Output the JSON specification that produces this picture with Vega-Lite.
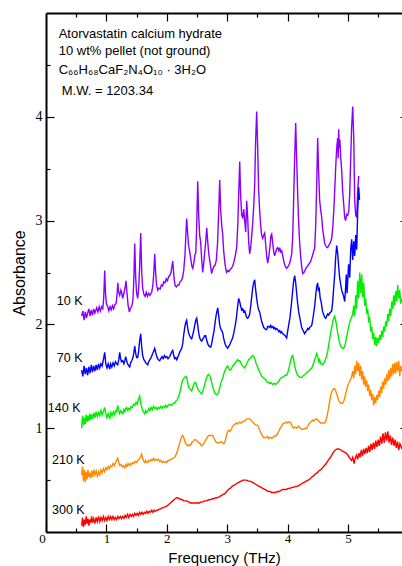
{
"$schema":"https://vega.github.io/schema/vega-lite/v6.json",
"width":356,"height":519,
"autosize":{"type":"none"},
"padding":{"left":46,"top":13,"right":0,"bottom":34},
"config":{"view":{"stroke":null},"font":"Liberation Sans"},
"datasets":{
"spectra":[
{"s":10,"f":0.59,"a":2.08},{"s":10,"f":0.61,"a":2.13},{"s":10,"f":0.63,"a":2.04},{"s":10,"f":0.65,"a":2.12},{"s":10,"f":0.67,"a":2.06},{"s":10,"f":0.69,"a":2.11},{"s":10,"f":0.71,"a":2.15},{"s":10,"f":0.73,"a":2.08},{"s":10,"f":0.75,"a":2.14},{"s":10,"f":0.77,"a":2.09},{"s":10,"f":0.79,"a":2.15},{"s":10,"f":0.81,"a":2.11},{"s":10,"f":0.84,"a":2.16},{"s":10,"f":0.86,"a":2.12},{"s":10,"f":0.88,"a":2.17},{"s":10,"f":0.90,"a":2.13},{"s":10,"f":0.92,"a":2.17},{"s":10,"f":0.94,"a":2.15},{"s":10,"f":0.955,"a":2.25},{"s":10,"f":0.972,"a":2.52},{"s":10,"f":0.985,"a":2.30},{"s":10,"f":1.00,"a":2.20},{"s":10,"f":1.022,"a":2.17},{"s":10,"f":1.04,"a":2.13},{"s":10,"f":1.06,"a":2.17},{"s":10,"f":1.08,"a":2.14},{"s":10,"f":1.10,"a":2.18},{"s":10,"f":1.12,"a":2.15},{"s":10,"f":1.14,"a":2.19},{"s":10,"f":1.16,"a":2.20},{"s":10,"f":1.175,"a":2.28},{"s":10,"f":1.19,"a":2.40},{"s":10,"f":1.20,"a":2.32},{"s":10,"f":1.22,"a":2.28},{"s":10,"f":1.24,"a":2.33},{"s":10,"f":1.255,"a":2.30},{"s":10,"f":1.27,"a":2.25},{"s":10,"f":1.29,"a":2.30},{"s":10,"f":1.31,"a":2.36},{"s":10,"f":1.325,"a":2.42},{"s":10,"f":1.34,"a":2.31},{"s":10,"f":1.36,"a":2.18},{"s":10,"f":1.38,"a":2.12},{"s":10,"f":1.40,"a":2.16},{"s":10,"f":1.42,"a":2.17},{"s":10,"f":1.44,"a":2.24},{"s":10,"f":1.455,"a":2.45},{"s":10,"f":1.469,"a":2.78},{"s":10,"f":1.485,"a":2.45},{"s":10,"f":1.50,"a":2.30},{"s":10,"f":1.518,"a":2.25},{"s":10,"f":1.535,"a":2.35},{"s":10,"f":1.55,"a":2.55},{"s":10,"f":1.568,"a":2.88},{"s":10,"f":1.585,"a":2.50},{"s":10,"f":1.60,"a":2.35},{"s":10,"f":1.62,"a":2.29},{"s":10,"f":1.64,"a":2.27},{"s":10,"f":1.66,"a":2.31},{"s":10,"f":1.68,"a":2.27},{"s":10,"f":1.70,"a":2.30},{"s":10,"f":1.72,"a":2.28},{"s":10,"f":1.75,"a":2.31},{"s":10,"f":1.77,"a":2.38},{"s":10,"f":1.785,"a":2.50},{"s":10,"f":1.80,"a":2.68},{"s":10,"f":1.815,"a":2.50},{"s":10,"f":1.83,"a":2.38},{"s":10,"f":1.85,"a":2.33},{"s":10,"f":1.87,"a":2.35},{"s":10,"f":1.89,"a":2.34},{"s":10,"f":1.91,"a":2.38},{"s":10,"f":1.93,"a":2.37},{"s":10,"f":1.95,"a":2.41},{"s":10,"f":1.97,"a":2.40},{"s":10,"f":1.99,"a":2.44},{"s":10,"f":2.01,"a":2.42},{"s":10,"f":2.03,"a":2.46},{"s":10,"f":2.05,"a":2.47},{"s":10,"f":2.07,"a":2.50},{"s":10,"f":2.085,"a":2.56},{"s":10,"f":2.098,"a":2.61},{"s":10,"f":2.11,"a":2.52},{"s":10,"f":2.125,"a":2.42},{"s":10,"f":2.14,"a":2.37},{"s":10,"f":2.16,"a":2.36},{"s":10,"f":2.18,"a":2.38},{"s":10,"f":2.20,"a":2.38},{"s":10,"f":2.22,"a":2.41},{"s":10,"f":2.24,"a":2.42},{"s":10,"f":2.26,"a":2.45},{"s":10,"f":2.28,"a":2.52},{"s":10,"f":2.30,"a":2.66},{"s":10,"f":2.315,"a":2.85},{"s":10,"f":2.329,"a":3.02},{"s":10,"f":2.345,"a":2.88},{"s":10,"f":2.36,"a":2.76},{"s":10,"f":2.38,"a":2.70},{"s":10,"f":2.40,"a":2.62},{"s":10,"f":2.415,"a":2.56},{"s":10,"f":2.43,"a":2.54},{"s":10,"f":2.45,"a":2.60},{"s":10,"f":2.465,"a":2.67},{"s":10,"f":2.48,"a":2.69},{"s":10,"f":2.495,"a":2.95},{"s":10,"f":2.512,"a":3.38},{"s":10,"f":2.528,"a":3.05},{"s":10,"f":2.545,"a":2.85},{"s":10,"f":2.56,"a":2.80},{"s":10,"f":2.575,"a":2.65},{"s":10,"f":2.594,"a":2.50},{"s":10,"f":2.61,"a":2.58},{"s":10,"f":2.627,"a":2.69},{"s":10,"f":2.645,"a":2.80},{"s":10,"f":2.661,"a":2.93},{"s":10,"f":2.68,"a":2.78},{"s":10,"f":2.695,"a":2.68},{"s":10,"f":2.71,"a":2.62},{"s":10,"f":2.727,"a":2.55},{"s":10,"f":2.743,"a":2.49},{"s":10,"f":2.76,"a":2.53},{"s":10,"f":2.78,"a":2.56},{"s":10,"f":2.80,"a":2.57},{"s":10,"f":2.82,"a":2.62},{"s":10,"f":2.84,"a":2.78},{"s":10,"f":2.86,"a":3.10},{"s":10,"f":2.876,"a":3.39},{"s":10,"f":2.892,"a":3.10},{"s":10,"f":2.91,"a":2.95},{"s":10,"f":2.925,"a":2.87},{"s":10,"f":2.94,"a":2.72},{"s":10,"f":2.96,"a":2.60},{"s":10,"f":2.98,"a":2.52},{"s":10,"f":2.992,"a":2.50},{"s":10,"f":3.01,"a":2.52},{"s":10,"f":3.03,"a":2.51},{"s":10,"f":3.05,"a":2.53},{"s":10,"f":3.07,"a":2.54},{"s":10,"f":3.091,"a":2.56},{"s":10,"f":3.11,"a":2.60},{"s":10,"f":3.13,"a":2.65},{"s":10,"f":3.157,"a":2.74},{"s":10,"f":3.175,"a":2.95},{"s":10,"f":3.19,"a":3.25},{"s":10,"f":3.207,"a":3.57},{"s":10,"f":3.222,"a":3.25},{"s":10,"f":3.24,"a":3.05},{"s":10,"f":3.257,"a":3.03},{"s":10,"f":3.273,"a":3.11},{"s":10,"f":3.29,"a":3.00},{"s":10,"f":3.306,"a":2.89},{"s":10,"f":3.323,"a":3.19},{"s":10,"f":3.339,"a":3.03},{"s":10,"f":3.355,"a":2.80},{"s":10,"f":3.372,"a":2.68},{"s":10,"f":3.39,"a":2.75},{"s":10,"f":3.405,"a":2.85},{"s":10,"f":3.422,"a":2.97},{"s":10,"f":3.44,"a":3.15},{"s":10,"f":3.455,"a":3.35},{"s":10,"f":3.47,"a":3.75},{"s":10,"f":3.488,"a":4.05},{"s":10,"f":3.505,"a":3.70},{"s":10,"f":3.52,"a":3.30},{"s":10,"f":3.538,"a":3.09},{"s":10,"f":3.555,"a":2.95},{"s":10,"f":3.57,"a":2.86},{"s":10,"f":3.588,"a":2.83},{"s":10,"f":3.605,"a":2.86},{"s":10,"f":3.621,"a":2.88},{"s":10,"f":3.64,"a":2.75},{"s":10,"f":3.655,"a":2.65},{"s":10,"f":3.671,"a":2.59},{"s":10,"f":3.69,"a":2.66},{"s":10,"f":3.71,"a":2.76},{"s":10,"f":3.722,"a":2.85},{"s":10,"f":3.737,"a":2.87},{"s":10,"f":3.755,"a":2.78},{"s":10,"f":3.77,"a":2.70},{"s":10,"f":3.786,"a":2.66},{"s":10,"f":3.80,"a":2.69},{"s":10,"f":3.82,"a":2.73},{"s":10,"f":3.836,"a":2.74},{"s":10,"f":3.855,"a":2.71},{"s":10,"f":3.87,"a":2.74},{"s":10,"f":3.885,"a":2.70},{"s":10,"f":3.902,"a":2.71},{"s":10,"f":3.92,"a":2.66},{"s":10,"f":3.94,"a":2.60},{"s":10,"f":3.96,"a":2.56},{"s":10,"f":3.985,"a":2.54},{"s":10,"f":4.00,"a":2.55},{"s":10,"f":4.02,"a":2.57},{"s":10,"f":4.04,"a":2.60},{"s":10,"f":4.068,"a":2.68},{"s":10,"f":4.085,"a":2.85},{"s":10,"f":4.10,"a":3.20},{"s":10,"f":4.117,"a":3.60},{"s":10,"f":4.134,"a":3.94},{"s":10,"f":4.15,"a":3.60},{"s":10,"f":4.167,"a":3.25},{"s":10,"f":4.184,"a":2.97},{"s":10,"f":4.20,"a":2.78},{"s":10,"f":4.217,"a":2.65},{"s":10,"f":4.233,"a":2.56},{"s":10,"f":4.25,"a":2.49},{"s":10,"f":4.27,"a":2.50},{"s":10,"f":4.29,"a":2.52},{"s":10,"f":4.31,"a":2.55},{"s":10,"f":4.33,"a":2.56},{"s":10,"f":4.35,"a":2.58},{"s":10,"f":4.366,"a":2.59},{"s":10,"f":4.39,"a":2.62},{"s":10,"f":4.41,"a":2.66},{"s":10,"f":4.43,"a":2.70},{"s":10,"f":4.449,"a":2.74},{"s":10,"f":4.465,"a":2.95},{"s":10,"f":4.48,"a":3.30},{"s":10,"f":4.498,"a":3.795},{"s":10,"f":4.515,"a":3.45},{"s":10,"f":4.53,"a":3.20},{"s":10,"f":4.548,"a":3.10},{"s":10,"f":4.565,"a":3.03},{"s":10,"f":4.58,"a":2.92},{"s":10,"f":4.60,"a":2.84},{"s":10,"f":4.614,"a":2.78},{"s":10,"f":4.63,"a":2.76},{"s":10,"f":4.65,"a":2.74},{"s":10,"f":4.664,"a":2.74},{"s":10,"f":4.68,"a":2.76},{"s":10,"f":4.70,"a":2.78},{"s":10,"f":4.715,"a":2.80},{"s":10,"f":4.73,"a":2.83},{"s":10,"f":4.75,"a":2.95},{"s":10,"f":4.765,"a":3.10},{"s":10,"f":4.78,"a":3.29},{"s":10,"f":4.795,"a":3.50},{"s":10,"f":4.813,"a":3.70},{"s":10,"f":4.829,"a":3.795},{"s":10,"f":4.838,"a":3.60},{"s":10,"f":4.846,"a":3.88},{"s":10,"f":4.855,"a":3.70},{"s":10,"f":4.865,"a":3.78},{"s":10,"f":4.88,"a":3.60},{"s":10,"f":4.896,"a":3.48},{"s":10,"f":4.91,"a":3.30},{"s":10,"f":4.93,"a":3.15},{"s":10,"f":4.945,"a":3.03},{"s":10,"f":4.96,"a":3.00},{"s":10,"f":4.978,"a":3.06},{"s":10,"f":4.995,"a":3.05},{"s":10,"f":5.012,"a":3.09},{"s":10,"f":5.028,"a":3.25},{"s":10,"f":5.045,"a":3.60},{"s":10,"f":5.06,"a":3.90},{"s":10,"f":5.078,"a":4.10},{"s":10,"f":5.095,"a":3.80},{"s":10,"f":5.111,"a":3.19},{"s":10,"f":5.128,"a":3.05},{"s":10,"f":5.144,"a":3.03},{"s":10,"f":5.161,"a":3.29},{"s":10,"f":5.177,"a":3.43},
{"s":70,"f":0.59,"a":1.56},{"s":70,"f":0.61,"a":1.50},{"s":70,"f":0.63,"a":1.60},{"s":70,"f":0.65,"a":1.52},{"s":70,"f":0.67,"a":1.58},{"s":70,"f":0.69,"a":1.51},{"s":70,"f":0.71,"a":1.59},{"s":70,"f":0.73,"a":1.53},{"s":70,"f":0.75,"a":1.61},{"s":70,"f":0.77,"a":1.54},{"s":70,"f":0.79,"a":1.60},{"s":70,"f":0.81,"a":1.55},{"s":70,"f":0.83,"a":1.61},{"s":70,"f":0.85,"a":1.56},{"s":70,"f":0.87,"a":1.62},{"s":70,"f":0.89,"a":1.58},{"s":70,"f":0.91,"a":1.62},{"s":70,"f":0.93,"a":1.60},{"s":70,"f":0.95,"a":1.66},{"s":70,"f":0.972,"a":1.73},{"s":70,"f":0.99,"a":1.62},{"s":70,"f":1.01,"a":1.58},{"s":70,"f":1.03,"a":1.62},{"s":70,"f":1.055,"a":1.57},{"s":70,"f":1.07,"a":1.62},{"s":70,"f":1.09,"a":1.59},{"s":70,"f":1.11,"a":1.63},{"s":70,"f":1.13,"a":1.60},{"s":70,"f":1.15,"a":1.64},{"s":70,"f":1.17,"a":1.62},{"s":70,"f":1.187,"a":1.61},{"s":70,"f":1.205,"a":1.66},{"s":70,"f":1.22,"a":1.73},{"s":70,"f":1.235,"a":1.67},{"s":70,"f":1.25,"a":1.64},{"s":70,"f":1.27,"a":1.65},{"s":70,"f":1.29,"a":1.62},{"s":70,"f":1.305,"a":1.65},{"s":70,"f":1.32,"a":1.69},{"s":70,"f":1.335,"a":1.65},{"s":70,"f":1.35,"a":1.62},{"s":70,"f":1.37,"a":1.60},{"s":70,"f":1.386,"a":1.59},{"s":70,"f":1.40,"a":1.63},{"s":70,"f":1.42,"a":1.65},{"s":70,"f":1.44,"a":1.68},{"s":70,"f":1.455,"a":1.73},{"s":70,"f":1.469,"a":1.79},{"s":70,"f":1.485,"a":1.72},{"s":70,"f":1.50,"a":1.68},{"s":70,"f":1.518,"a":1.68},{"s":70,"f":1.535,"a":1.75},{"s":70,"f":1.55,"a":1.84},{"s":70,"f":1.568,"a":1.91},{"s":70,"f":1.585,"a":1.78},{"s":70,"f":1.60,"a":1.70},{"s":70,"f":1.62,"a":1.66},{"s":70,"f":1.634,"a":1.65},{"s":70,"f":1.65,"a":1.63},{"s":70,"f":1.67,"a":1.62},{"s":70,"f":1.684,"a":1.61},{"s":70,"f":1.70,"a":1.64},{"s":70,"f":1.72,"a":1.66},{"s":70,"f":1.74,"a":1.68},{"s":70,"f":1.76,"a":1.71},{"s":70,"f":1.78,"a":1.74},{"s":70,"f":1.80,"a":1.77},{"s":70,"f":1.82,"a":1.72},{"s":70,"f":1.84,"a":1.68},{"s":70,"f":1.86,"a":1.66},{"s":70,"f":1.882,"a":1.65},{"s":70,"f":1.90,"a":1.67},{"s":70,"f":1.92,"a":1.69},{"s":70,"f":1.94,"a":1.67},{"s":70,"f":1.96,"a":1.70},{"s":70,"f":1.98,"a":1.68},{"s":70,"f":2.00,"a":1.69},{"s":70,"f":2.02,"a":1.67},{"s":70,"f":2.048,"a":1.69},{"s":70,"f":2.07,"a":1.72},{"s":70,"f":2.085,"a":1.74},{"s":70,"f":2.098,"a":1.75},{"s":70,"f":2.115,"a":1.70},{"s":70,"f":2.13,"a":1.67},{"s":70,"f":2.15,"a":1.68},{"s":70,"f":2.165,"a":1.66},{"s":70,"f":2.18,"a":1.68},{"s":70,"f":2.20,"a":1.71},{"s":70,"f":2.22,"a":1.74},{"s":70,"f":2.247,"a":1.77},{"s":70,"f":2.265,"a":1.82},{"s":70,"f":2.28,"a":1.90},{"s":70,"f":2.30,"a":1.98},{"s":70,"f":2.315,"a":2.02},{"s":70,"f":2.329,"a":2.04},{"s":70,"f":2.345,"a":1.97},{"s":70,"f":2.36,"a":1.92},{"s":70,"f":2.38,"a":1.89},{"s":70,"f":2.395,"a":1.87},{"s":70,"f":2.412,"a":1.86},{"s":70,"f":2.43,"a":1.90},{"s":70,"f":2.45,"a":1.95},{"s":70,"f":2.465,"a":2.00},{"s":70,"f":2.48,"a":2.04},{"s":70,"f":2.495,"a":2.06},{"s":70,"f":2.51,"a":2.00},{"s":70,"f":2.525,"a":1.93},{"s":70,"f":2.545,"a":1.87},{"s":70,"f":2.56,"a":1.85},{"s":70,"f":2.578,"a":1.84},{"s":70,"f":2.595,"a":1.86},{"s":70,"f":2.61,"a":1.87},{"s":70,"f":2.627,"a":1.89},{"s":70,"f":2.644,"a":1.89},{"s":70,"f":2.66,"a":1.85},{"s":70,"f":2.68,"a":1.81},{"s":70,"f":2.70,"a":1.79},{"s":70,"f":2.727,"a":1.78},{"s":70,"f":2.745,"a":1.82},{"s":70,"f":2.76,"a":1.87},{"s":70,"f":2.78,"a":1.93},{"s":70,"f":2.80,"a":2.02},{"s":70,"f":2.82,"a":2.10},{"s":70,"f":2.843,"a":2.16},{"s":70,"f":2.86,"a":2.08},{"s":70,"f":2.875,"a":2.00},{"s":70,"f":2.89,"a":1.96},{"s":70,"f":2.91,"a":1.94},{"s":70,"f":2.925,"a":1.92},{"s":70,"f":2.94,"a":1.87},{"s":70,"f":2.96,"a":1.82},{"s":70,"f":2.98,"a":1.79},{"s":70,"f":3.008,"a":1.77},{"s":70,"f":3.025,"a":1.79},{"s":70,"f":3.04,"a":1.80},{"s":70,"f":3.06,"a":1.83},{"s":70,"f":3.075,"a":1.85},{"s":70,"f":3.091,"a":1.87},{"s":70,"f":3.11,"a":1.92},{"s":70,"f":3.13,"a":1.98},{"s":70,"f":3.15,"a":2.05},{"s":70,"f":3.17,"a":2.16},{"s":70,"f":3.19,"a":2.25},{"s":70,"f":3.207,"a":2.22},{"s":70,"f":3.225,"a":2.17},{"s":70,"f":3.24,"a":2.14},{"s":70,"f":3.257,"a":2.15},{"s":70,"f":3.273,"a":2.12},{"s":70,"f":3.29,"a":2.13},{"s":70,"f":3.306,"a":2.10},{"s":70,"f":3.32,"a":2.07},{"s":70,"f":3.339,"a":2.06},{"s":70,"f":3.355,"a":2.07},{"s":70,"f":3.372,"a":2.10},{"s":70,"f":3.39,"a":2.18},{"s":70,"f":3.405,"a":2.26},{"s":70,"f":3.422,"a":2.35},{"s":70,"f":3.438,"a":2.40},{"s":70,"f":3.455,"a":2.43},{"s":70,"f":3.47,"a":2.34},{"s":70,"f":3.488,"a":2.25},{"s":70,"f":3.505,"a":2.18},{"s":70,"f":3.52,"a":2.14},{"s":70,"f":3.538,"a":2.12},{"s":70,"f":3.555,"a":2.07},{"s":70,"f":3.57,"a":2.03},{"s":70,"f":3.588,"a":2.00},{"s":70,"f":3.605,"a":1.97},{"s":70,"f":3.621,"a":1.96},{"s":70,"f":3.64,"a":1.95},{"s":70,"f":3.654,"a":1.95},{"s":70,"f":3.67,"a":1.98},{"s":70,"f":3.69,"a":1.98},{"s":70,"f":3.705,"a":1.97},{"s":70,"f":3.72,"a":1.99},{"s":70,"f":3.737,"a":1.97},{"s":70,"f":3.755,"a":1.98},{"s":70,"f":3.77,"a":1.96},{"s":70,"f":3.786,"a":1.97},{"s":70,"f":3.80,"a":1.95},{"s":70,"f":3.82,"a":1.96},{"s":70,"f":3.836,"a":1.95},{"s":70,"f":3.855,"a":1.93},{"s":70,"f":3.87,"a":1.94},{"s":70,"f":3.885,"a":1.92},{"s":70,"f":3.90,"a":1.93},{"s":70,"f":3.92,"a":1.91},{"s":70,"f":3.94,"a":1.90},{"s":70,"f":3.96,"a":1.89},{"s":70,"f":3.985,"a":1.87},{"s":70,"f":4.00,"a":1.93},{"s":70,"f":4.02,"a":2.00},{"s":70,"f":4.04,"a":2.07},{"s":70,"f":4.06,"a":2.18},{"s":70,"f":4.08,"a":2.30},{"s":70,"f":4.10,"a":2.42},{"s":70,"f":4.117,"a":2.47},{"s":70,"f":4.134,"a":2.40},{"s":70,"f":4.15,"a":2.30},{"s":70,"f":4.167,"a":2.20},{"s":70,"f":4.184,"a":2.12},{"s":70,"f":4.20,"a":2.07},{"s":70,"f":4.217,"a":2.02},{"s":70,"f":4.233,"a":1.97},{"s":70,"f":4.25,"a":1.95},{"s":70,"f":4.265,"a":1.93},{"s":70,"f":4.283,"a":1.91},{"s":70,"f":4.30,"a":1.93},{"s":70,"f":4.316,"a":1.94},{"s":70,"f":4.335,"a":1.96},{"s":70,"f":4.35,"a":1.95},{"s":70,"f":4.366,"a":1.97},{"s":70,"f":4.383,"a":1.98},{"s":70,"f":4.399,"a":1.99},{"s":70,"f":4.415,"a":2.04},{"s":70,"f":4.43,"a":2.10},{"s":70,"f":4.449,"a":2.18},{"s":70,"f":4.465,"a":2.28},{"s":70,"f":4.48,"a":2.36},{"s":70,"f":4.498,"a":2.40},{"s":70,"f":4.51,"a":2.32},{"s":70,"f":4.525,"a":2.34},{"s":70,"f":4.54,"a":2.25},{"s":70,"f":4.555,"a":2.22},{"s":70,"f":4.565,"a":2.18},{"s":70,"f":4.58,"a":2.12},{"s":70,"f":4.60,"a":2.09},{"s":70,"f":4.614,"a":2.07},{"s":70,"f":4.631,"a":2.06},{"s":70,"f":4.647,"a":2.08},{"s":70,"f":4.664,"a":2.10},{"s":70,"f":4.68,"a":2.09},{"s":70,"f":4.70,"a":2.11},{"s":70,"f":4.715,"a":2.12},{"s":70,"f":4.73,"a":2.13},{"s":70,"f":4.747,"a":2.22},{"s":70,"f":4.763,"a":2.35},{"s":70,"f":4.78,"a":2.48},{"s":70,"f":4.796,"a":2.65},{"s":70,"f":4.813,"a":2.76},{"s":70,"f":4.83,"a":2.68},{"s":70,"f":4.846,"a":2.55},{"s":70,"f":4.862,"a":2.45},{"s":70,"f":4.88,"a":2.38},{"s":70,"f":4.896,"a":2.33},{"s":70,"f":4.912,"a":2.30},{"s":70,"f":4.928,"a":2.27},{"s":70,"f":4.945,"a":2.22},{"s":70,"f":4.96,"a":2.35},{"s":70,"f":4.972,"a":2.48},{"s":70,"f":4.985,"a":2.30},{"s":70,"f":4.995,"a":2.42},{"s":70,"f":5.01,"a":2.58},{"s":70,"f":5.028,"a":2.45},{"s":70,"f":5.045,"a":2.72},{"s":70,"f":5.061,"a":2.82},{"s":70,"f":5.078,"a":2.62},{"s":70,"f":5.095,"a":2.80},{"s":70,"f":5.111,"a":2.66},{"s":70,"f":5.128,"a":2.86},{"s":70,"f":5.144,"a":2.72},{"s":70,"f":5.161,"a":3.10},{"s":70,"f":5.177,"a":3.32},{"s":70,"f":5.19,"a":3.20},
{"s":140,"f":0.59,"a":1.00},{"s":140,"f":0.605,"a":1.12},{"s":140,"f":0.62,"a":1.03},{"s":140,"f":0.635,"a":1.10},{"s":140,"f":0.65,"a":1.04},{"s":140,"f":0.665,"a":1.13},{"s":140,"f":0.68,"a":1.06},{"s":140,"f":0.695,"a":1.12},{"s":140,"f":0.71,"a":1.07},{"s":140,"f":0.725,"a":1.14},{"s":140,"f":0.74,"a":1.08},{"s":140,"f":0.755,"a":1.13},{"s":140,"f":0.77,"a":1.09},{"s":140,"f":0.79,"a":1.15},{"s":140,"f":0.81,"a":1.10},{"s":140,"f":0.83,"a":1.16},{"s":140,"f":0.85,"a":1.11},{"s":140,"f":0.87,"a":1.15},{"s":140,"f":0.89,"a":1.12},{"s":140,"f":0.91,"a":1.17},{"s":140,"f":0.93,"a":1.13},{"s":140,"f":0.95,"a":1.16},{"s":140,"f":0.972,"a":1.20},{"s":140,"f":0.99,"a":1.14},{"s":140,"f":1.01,"a":1.10},{"s":140,"f":1.03,"a":1.14},{"s":140,"f":1.055,"a":1.09},{"s":140,"f":1.075,"a":1.15},{"s":140,"f":1.095,"a":1.12},{"s":140,"f":1.115,"a":1.16},{"s":140,"f":1.135,"a":1.13},{"s":140,"f":1.155,"a":1.17},{"s":140,"f":1.17,"a":1.16},{"s":140,"f":1.187,"a":1.22},{"s":140,"f":1.205,"a":1.17},{"s":140,"f":1.22,"a":1.14},{"s":140,"f":1.24,"a":1.17},{"s":140,"f":1.255,"a":1.15},{"s":140,"f":1.27,"a":1.14},{"s":140,"f":1.29,"a":1.18},{"s":140,"f":1.305,"a":1.16},{"s":140,"f":1.32,"a":1.19},{"s":140,"f":1.336,"a":1.20},{"s":140,"f":1.355,"a":1.17},{"s":140,"f":1.37,"a":1.19},{"s":140,"f":1.39,"a":1.18},{"s":140,"f":1.41,"a":1.21},{"s":140,"f":1.43,"a":1.20},{"s":140,"f":1.45,"a":1.23},{"s":140,"f":1.47,"a":1.22},{"s":140,"f":1.49,"a":1.25},{"s":140,"f":1.51,"a":1.23},{"s":140,"f":1.53,"a":1.28},{"s":140,"f":1.551,"a":1.31},{"s":140,"f":1.57,"a":1.24},{"s":140,"f":1.59,"a":1.19},{"s":140,"f":1.61,"a":1.16},{"s":140,"f":1.634,"a":1.14},{"s":140,"f":1.65,"a":1.17},{"s":140,"f":1.667,"a":1.15},{"s":140,"f":1.684,"a":1.16},{"s":140,"f":1.70,"a":1.19},{"s":140,"f":1.72,"a":1.17},{"s":140,"f":1.74,"a":1.20},{"s":140,"f":1.76,"a":1.18},{"s":140,"f":1.78,"a":1.21},{"s":140,"f":1.80,"a":1.19},{"s":140,"f":1.82,"a":1.20},{"s":140,"f":1.84,"a":1.18},{"s":140,"f":1.86,"a":1.20},{"s":140,"f":1.88,"a":1.19},{"s":140,"f":1.90,"a":1.21},{"s":140,"f":1.92,"a":1.19},{"s":140,"f":1.94,"a":1.21},{"s":140,"f":1.96,"a":1.20},{"s":140,"f":1.98,"a":1.22},{"s":140,"f":2.00,"a":1.20},{"s":140,"f":2.02,"a":1.22},{"s":140,"f":2.05,"a":1.23},{"s":140,"f":2.08,"a":1.22},{"s":140,"f":2.11,"a":1.24},{"s":140,"f":2.131,"a":1.24},{"s":140,"f":2.15,"a":1.26},{"s":140,"f":2.17,"a":1.27},{"s":140,"f":2.19,"a":1.30},{"s":140,"f":2.21,"a":1.33},{"s":140,"f":2.23,"a":1.38},{"s":140,"f":2.25,"a":1.44},{"s":140,"f":2.27,"a":1.47},{"s":140,"f":2.296,"a":1.49},{"s":140,"f":2.313,"a":1.50},{"s":140,"f":2.329,"a":1.49},{"s":140,"f":2.345,"a":1.44},{"s":140,"f":2.36,"a":1.40},{"s":140,"f":2.379,"a":1.38},{"s":140,"f":2.395,"a":1.37},{"s":140,"f":2.412,"a":1.36},{"s":140,"f":2.429,"a":1.39},{"s":140,"f":2.445,"a":1.42},{"s":140,"f":2.462,"a":1.44},{"s":140,"f":2.478,"a":1.44},{"s":140,"f":2.495,"a":1.41},{"s":140,"f":2.512,"a":1.38},{"s":140,"f":2.53,"a":1.36},{"s":140,"f":2.545,"a":1.35},{"s":140,"f":2.56,"a":1.34},{"s":140,"f":2.578,"a":1.33},{"s":140,"f":2.595,"a":1.35},{"s":140,"f":2.61,"a":1.38},{"s":140,"f":2.627,"a":1.42},{"s":140,"f":2.644,"a":1.46},{"s":140,"f":2.661,"a":1.49},{"s":140,"f":2.677,"a":1.51},{"s":140,"f":2.694,"a":1.52},{"s":140,"f":2.71,"a":1.51},{"s":140,"f":2.727,"a":1.48},{"s":140,"f":2.743,"a":1.44},{"s":140,"f":2.76,"a":1.40},{"s":140,"f":2.776,"a":1.37},{"s":140,"f":2.793,"a":1.34},{"s":140,"f":2.81,"a":1.33},{"s":140,"f":2.826,"a":1.32},{"s":140,"f":2.843,"a":1.33},{"s":140,"f":2.86,"a":1.35},{"s":140,"f":2.876,"a":1.39},{"s":140,"f":2.893,"a":1.43},{"s":140,"f":2.909,"a":1.46},{"s":140,"f":2.925,"a":1.48},{"s":140,"f":2.942,"a":1.52},{"s":140,"f":2.959,"a":1.55},{"s":140,"f":2.975,"a":1.57},{"s":140,"f":2.992,"a":1.59},{"s":140,"f":3.008,"a":1.60},{"s":140,"f":3.025,"a":1.58},{"s":140,"f":3.041,"a":1.56},{"s":140,"f":3.058,"a":1.56},{"s":140,"f":3.075,"a":1.58},{"s":140,"f":3.091,"a":1.60},{"s":140,"f":3.11,"a":1.61},{"s":140,"f":3.13,"a":1.63},{"s":140,"f":3.15,"a":1.64},{"s":140,"f":3.17,"a":1.66},{"s":140,"f":3.19,"a":1.65},{"s":140,"f":3.207,"a":1.65},{"s":140,"f":3.225,"a":1.63},{"s":140,"f":3.24,"a":1.61},{"s":140,"f":3.257,"a":1.60},{"s":140,"f":3.273,"a":1.59},{"s":140,"f":3.29,"a":1.58},{"s":140,"f":3.306,"a":1.60},{"s":140,"f":3.323,"a":1.62},{"s":140,"f":3.339,"a":1.64},{"s":140,"f":3.355,"a":1.66},{"s":140,"f":3.372,"a":1.67},{"s":140,"f":3.39,"a":1.68},{"s":140,"f":3.405,"a":1.69},{"s":140,"f":3.422,"a":1.70},{"s":140,"f":3.44,"a":1.69},{"s":140,"f":3.455,"a":1.67},{"s":140,"f":3.47,"a":1.64},{"s":140,"f":3.488,"a":1.61},{"s":140,"f":3.505,"a":1.59},{"s":140,"f":3.52,"a":1.56},{"s":140,"f":3.538,"a":1.54},{"s":140,"f":3.555,"a":1.52},{"s":140,"f":3.57,"a":1.50},{"s":140,"f":3.588,"a":1.49},{"s":140,"f":3.605,"a":1.48},{"s":140,"f":3.621,"a":1.48},{"s":140,"f":3.64,"a":1.46},{"s":140,"f":3.654,"a":1.45},{"s":140,"f":3.67,"a":1.44},{"s":140,"f":3.69,"a":1.44},{"s":140,"f":3.705,"a":1.43},{"s":140,"f":3.72,"a":1.44},{"s":140,"f":3.737,"a":1.43},{"s":140,"f":3.755,"a":1.42},{"s":140,"f":3.77,"a":1.43},{"s":140,"f":3.786,"a":1.43},{"s":140,"f":3.80,"a":1.42},{"s":140,"f":3.82,"a":1.43},{"s":140,"f":3.836,"a":1.44},{"s":140,"f":3.855,"a":1.45},{"s":140,"f":3.87,"a":1.47},{"s":140,"f":3.885,"a":1.48},{"s":140,"f":3.902,"a":1.49},{"s":140,"f":3.92,"a":1.49},{"s":140,"f":3.94,"a":1.50},{"s":140,"f":3.96,"a":1.51},{"s":140,"f":3.985,"a":1.51},{"s":140,"f":4.00,"a":1.53},{"s":140,"f":4.02,"a":1.57},{"s":140,"f":4.035,"a":1.61},{"s":140,"f":4.05,"a":1.65},{"s":140,"f":4.068,"a":1.69},{"s":140,"f":4.084,"a":1.70},{"s":140,"f":4.10,"a":1.66},{"s":140,"f":4.117,"a":1.60},{"s":140,"f":4.134,"a":1.56},{"s":140,"f":4.15,"a":1.53},{"s":140,"f":4.167,"a":1.51},{"s":140,"f":4.184,"a":1.50},{"s":140,"f":4.20,"a":1.49},{"s":140,"f":4.217,"a":1.49},{"s":140,"f":4.233,"a":1.49},{"s":140,"f":4.25,"a":1.50},{"s":140,"f":4.27,"a":1.51},{"s":140,"f":4.29,"a":1.52},{"s":140,"f":4.31,"a":1.53},{"s":140,"f":4.33,"a":1.54},{"s":140,"f":4.35,"a":1.55},{"s":140,"f":4.366,"a":1.56},{"s":140,"f":4.383,"a":1.57},{"s":140,"f":4.399,"a":1.58},{"s":140,"f":4.415,"a":1.60},{"s":140,"f":4.432,"a":1.63},{"s":140,"f":4.449,"a":1.66},{"s":140,"f":4.465,"a":1.69},{"s":140,"f":4.482,"a":1.72},{"s":140,"f":4.498,"a":1.69},{"s":140,"f":4.515,"a":1.64},{"s":140,"f":4.53,"a":1.66},{"s":140,"f":4.548,"a":1.62},{"s":140,"f":4.565,"a":1.62},{"s":140,"f":4.581,"a":1.61},{"s":140,"f":4.598,"a":1.63},{"s":140,"f":4.614,"a":1.64},{"s":140,"f":4.631,"a":1.67},{"s":140,"f":4.647,"a":1.70},{"s":140,"f":4.664,"a":1.74},{"s":140,"f":4.68,"a":1.80},{"s":140,"f":4.697,"a":1.86},{"s":140,"f":4.713,"a":1.92},{"s":140,"f":4.73,"a":1.97},{"s":140,"f":4.747,"a":2.02},{"s":140,"f":4.763,"a":2.06},{"s":140,"f":4.78,"a":2.08},{"s":140,"f":4.796,"a":2.04},{"s":140,"f":4.813,"a":1.98},{"s":140,"f":4.829,"a":1.92},{"s":140,"f":4.846,"a":1.86},{"s":140,"f":4.862,"a":1.82},{"s":140,"f":4.88,"a":1.79},{"s":140,"f":4.896,"a":1.78},{"s":140,"f":4.912,"a":1.77},{"s":140,"f":4.929,"a":1.77},{"s":140,"f":4.945,"a":1.79},{"s":140,"f":4.962,"a":1.83},{"s":140,"f":4.978,"a":1.88},{"s":140,"f":4.995,"a":1.93},{"s":140,"f":5.012,"a":1.98},{"s":140,"f":5.028,"a":2.02},{"s":140,"f":5.045,"a":2.05},{"s":140,"f":5.061,"a":2.07},{"s":140,"f":5.078,"a":2.10},{"s":140,"f":5.095,"a":2.18},{"s":140,"f":5.11,"a":2.08},{"s":140,"f":5.128,"a":2.28},{"s":140,"f":5.144,"a":2.15},{"s":140,"f":5.16,"a":2.42},{"s":140,"f":5.177,"a":2.25},{"s":140,"f":5.194,"a":2.50},{"s":140,"f":5.21,"a":2.30},{"s":140,"f":5.227,"a":2.48},{"s":140,"f":5.243,"a":2.26},{"s":140,"f":5.26,"a":2.40},{"s":140,"f":5.276,"a":2.18},{"s":140,"f":5.293,"a":2.25},{"s":140,"f":5.31,"a":2.10},{"s":140,"f":5.326,"a":2.15},{"s":140,"f":5.343,"a":2.02},{"s":140,"f":5.359,"a":2.07},{"s":140,"f":5.376,"a":1.93},{"s":140,"f":5.392,"a":1.98},{"s":140,"f":5.409,"a":1.86},{"s":140,"f":5.425,"a":1.92},{"s":140,"f":5.442,"a":1.80},{"s":140,"f":5.458,"a":1.88},{"s":140,"f":5.475,"a":1.79},{"s":140,"f":5.49,"a":1.87},{"s":140,"f":5.508,"a":1.82},{"s":140,"f":5.525,"a":1.90},{"s":140,"f":5.541,"a":1.85},{"s":140,"f":5.558,"a":1.94},{"s":140,"f":5.575,"a":1.88},{"s":140,"f":5.591,"a":1.98},{"s":140,"f":5.608,"a":1.93},{"s":140,"f":5.625,"a":2.03},{"s":140,"f":5.641,"a":1.98},{"s":140,"f":5.658,"a":2.10},{"s":140,"f":5.674,"a":2.03},{"s":140,"f":5.69,"a":2.15},{"s":140,"f":5.707,"a":2.08},{"s":140,"f":5.724,"a":2.22},{"s":140,"f":5.74,"a":2.15},{"s":140,"f":5.757,"a":2.28},{"s":140,"f":5.773,"a":2.18},{"s":140,"f":5.79,"a":2.32},{"s":140,"f":5.806,"a":2.22},{"s":140,"f":5.823,"a":2.38},{"s":140,"f":5.84,"a":2.25},{"s":140,"f":5.856,"a":2.33},{"s":140,"f":5.873,"a":2.20},{"s":140,"f":5.894,"a":2.25},
{"s":210,"f":0.59,"a":0.55},{"s":210,"f":0.605,"a":0.63},{"s":210,"f":0.62,"a":0.49},{"s":210,"f":0.635,"a":0.60},{"s":210,"f":0.65,"a":0.48},{"s":210,"f":0.665,"a":0.58},{"s":210,"f":0.68,"a":0.51},{"s":210,"f":0.695,"a":0.60},{"s":210,"f":0.71,"a":0.53},{"s":210,"f":0.724,"a":0.57},{"s":210,"f":0.74,"a":0.52},{"s":210,"f":0.755,"a":0.59},{"s":210,"f":0.77,"a":0.53},{"s":210,"f":0.79,"a":0.60},{"s":210,"f":0.81,"a":0.55},{"s":210,"f":0.83,"a":0.59},{"s":210,"f":0.85,"a":0.54},{"s":210,"f":0.87,"a":0.58},{"s":210,"f":0.889,"a":0.55},{"s":210,"f":0.91,"a":0.60},{"s":210,"f":0.93,"a":0.57},{"s":210,"f":0.95,"a":0.61},{"s":210,"f":0.97,"a":0.58},{"s":210,"f":0.99,"a":0.62},{"s":210,"f":1.01,"a":0.60},{"s":210,"f":1.03,"a":0.63},{"s":210,"f":1.05,"a":0.61},{"s":210,"f":1.07,"a":0.64},{"s":210,"f":1.09,"a":0.63},{"s":210,"f":1.11,"a":0.66},{"s":210,"f":1.13,"a":0.64},{"s":210,"f":1.15,"a":0.67},{"s":210,"f":1.17,"a":0.69},{"s":210,"f":1.187,"a":0.71},{"s":210,"f":1.205,"a":0.67},{"s":210,"f":1.22,"a":0.64},{"s":210,"f":1.24,"a":0.65},{"s":210,"f":1.26,"a":0.63},{"s":210,"f":1.28,"a":0.64},{"s":210,"f":1.303,"a":0.62},{"s":210,"f":1.32,"a":0.65},{"s":210,"f":1.34,"a":0.63},{"s":210,"f":1.36,"a":0.66},{"s":210,"f":1.386,"a":0.64},{"s":210,"f":1.40,"a":0.66},{"s":210,"f":1.42,"a":0.65},{"s":210,"f":1.44,"a":0.67},{"s":210,"f":1.46,"a":0.66},{"s":210,"f":1.48,"a":0.68},{"s":210,"f":1.50,"a":0.67},{"s":210,"f":1.52,"a":0.69},{"s":210,"f":1.54,"a":0.70},{"s":210,"f":1.56,"a":0.72},{"s":210,"f":1.584,"a":0.75},{"s":210,"f":1.60,"a":0.71},{"s":210,"f":1.62,"a":0.68},{"s":210,"f":1.634,"a":0.67},{"s":210,"f":1.65,"a":0.69},{"s":210,"f":1.667,"a":0.67},{"s":210,"f":1.684,"a":0.67},{"s":210,"f":1.70,"a":0.69},{"s":210,"f":1.72,"a":0.68},{"s":210,"f":1.74,"a":0.70},{"s":210,"f":1.76,"a":0.69},{"s":210,"f":1.78,"a":0.71},{"s":210,"f":1.80,"a":0.69},{"s":210,"f":1.82,"a":0.70},{"s":210,"f":1.84,"a":0.69},{"s":210,"f":1.86,"a":0.70},{"s":210,"f":1.88,"a":0.68},{"s":210,"f":1.90,"a":0.69},{"s":210,"f":1.92,"a":0.67},{"s":210,"f":1.94,"a":0.68},{"s":210,"f":1.96,"a":0.67},{"s":210,"f":1.98,"a":0.68},{"s":210,"f":2.00,"a":0.67},{"s":210,"f":2.02,"a":0.69},{"s":210,"f":2.04,"a":0.69},{"s":210,"f":2.06,"a":0.70},{"s":210,"f":2.08,"a":0.70},{"s":210,"f":2.10,"a":0.71},{"s":210,"f":2.131,"a":0.72},{"s":210,"f":2.15,"a":0.74},{"s":210,"f":2.17,"a":0.77},{"s":210,"f":2.19,"a":0.81},{"s":210,"f":2.21,"a":0.85},{"s":210,"f":2.23,"a":0.89},{"s":210,"f":2.247,"a":0.92},{"s":210,"f":2.263,"a":0.93},{"s":210,"f":2.28,"a":0.91},{"s":210,"f":2.296,"a":0.88},{"s":210,"f":2.313,"a":0.85},{"s":210,"f":2.329,"a":0.84},{"s":210,"f":2.345,"a":0.83},{"s":210,"f":2.362,"a":0.84},{"s":210,"f":2.379,"a":0.83},{"s":210,"f":2.395,"a":0.84},{"s":210,"f":2.412,"a":0.86},{"s":210,"f":2.429,"a":0.87},{"s":210,"f":2.445,"a":0.88},{"s":210,"f":2.462,"a":0.89},{"s":210,"f":2.478,"a":0.89},{"s":210,"f":2.495,"a":0.88},{"s":210,"f":2.512,"a":0.87},{"s":210,"f":2.53,"a":0.86},{"s":210,"f":2.545,"a":0.86},{"s":210,"f":2.56,"a":0.84},{"s":210,"f":2.578,"a":0.83},{"s":210,"f":2.595,"a":0.84},{"s":210,"f":2.611,"a":0.85},{"s":210,"f":2.627,"a":0.87},{"s":210,"f":2.644,"a":0.89},{"s":210,"f":2.661,"a":0.90},{"s":210,"f":2.677,"a":0.92},{"s":210,"f":2.694,"a":0.93},{"s":210,"f":2.71,"a":0.93},{"s":210,"f":2.727,"a":0.93},{"s":210,"f":2.743,"a":0.93},{"s":210,"f":2.76,"a":0.93},{"s":210,"f":2.776,"a":0.91},{"s":210,"f":2.793,"a":0.89},{"s":210,"f":2.81,"a":0.87},{"s":210,"f":2.826,"a":0.86},{"s":210,"f":2.843,"a":0.86},{"s":210,"f":2.86,"a":0.86},{"s":210,"f":2.876,"a":0.86},{"s":210,"f":2.893,"a":0.87},{"s":210,"f":2.909,"a":0.87},{"s":210,"f":2.925,"a":0.86},{"s":210,"f":2.942,"a":0.85},{"s":210,"f":2.959,"a":0.86},{"s":210,"f":2.975,"a":0.90},{"s":210,"f":2.992,"a":0.94},{"s":210,"f":3.008,"a":0.97},{"s":210,"f":3.025,"a":0.98},{"s":210,"f":3.041,"a":0.97},{"s":210,"f":3.058,"a":0.98},{"s":210,"f":3.075,"a":1.00},{"s":210,"f":3.091,"a":1.02},{"s":210,"f":3.11,"a":1.03},{"s":210,"f":3.13,"a":1.04},{"s":210,"f":3.15,"a":1.05},{"s":210,"f":3.17,"a":1.04},{"s":210,"f":3.19,"a":1.05},{"s":210,"f":3.21,"a":1.06},{"s":210,"f":3.23,"a":1.05},{"s":210,"f":3.25,"a":1.06},{"s":210,"f":3.273,"a":1.07},{"s":210,"f":3.29,"a":1.07},{"s":210,"f":3.306,"a":1.08},{"s":210,"f":3.323,"a":1.09},{"s":210,"f":3.339,"a":1.09},{"s":210,"f":3.355,"a":1.09},{"s":210,"f":3.372,"a":1.09},{"s":210,"f":3.39,"a":1.08},{"s":210,"f":3.405,"a":1.07},{"s":210,"f":3.422,"a":1.06},{"s":210,"f":3.44,"a":1.05},{"s":210,"f":3.455,"a":1.04},{"s":210,"f":3.47,"a":1.03},{"s":210,"f":3.488,"a":1.03},{"s":210,"f":3.505,"a":1.03},{"s":210,"f":3.52,"a":1.01},{"s":210,"f":3.538,"a":0.98},{"s":210,"f":3.555,"a":0.96},{"s":210,"f":3.57,"a":0.94},{"s":210,"f":3.588,"a":0.92},{"s":210,"f":3.605,"a":0.91},{"s":210,"f":3.621,"a":0.91},{"s":210,"f":3.64,"a":0.91},{"s":210,"f":3.654,"a":0.91},{"s":210,"f":3.67,"a":0.92},{"s":210,"f":3.69,"a":0.90},{"s":210,"f":3.705,"a":0.91},{"s":210,"f":3.72,"a":0.91},{"s":210,"f":3.737,"a":0.90},{"s":210,"f":3.755,"a":0.91},{"s":210,"f":3.77,"a":0.92},{"s":210,"f":3.786,"a":0.92},{"s":210,"f":3.80,"a":0.93},{"s":210,"f":3.82,"a":0.93},{"s":210,"f":3.836,"a":0.95},{"s":210,"f":3.855,"a":0.97},{"s":210,"f":3.87,"a":0.99},{"s":210,"f":3.885,"a":1.01},{"s":210,"f":3.902,"a":1.02},{"s":210,"f":3.92,"a":1.04},{"s":210,"f":3.94,"a":1.05},{"s":210,"f":3.96,"a":1.05},{"s":210,"f":3.985,"a":1.06},{"s":210,"f":4.00,"a":1.05},{"s":210,"f":4.02,"a":1.06},{"s":210,"f":4.035,"a":1.06},{"s":210,"f":4.05,"a":1.05},{"s":210,"f":4.068,"a":1.03},{"s":210,"f":4.084,"a":1.01},{"s":210,"f":4.10,"a":1.00},{"s":210,"f":4.117,"a":1.01},{"s":210,"f":4.134,"a":1.01},{"s":210,"f":4.15,"a":1.00},{"s":210,"f":4.167,"a":1.01},{"s":210,"f":4.184,"a":1.02},{"s":210,"f":4.20,"a":1.01},{"s":210,"f":4.217,"a":1.00},{"s":210,"f":4.233,"a":0.99},{"s":210,"f":4.25,"a":0.99},{"s":210,"f":4.27,"a":0.99},{"s":210,"f":4.29,"a":1.00},{"s":210,"f":4.316,"a":1.00},{"s":210,"f":4.335,"a":1.02},{"s":210,"f":4.35,"a":1.04},{"s":210,"f":4.366,"a":1.05},{"s":210,"f":4.383,"a":1.06},{"s":210,"f":4.399,"a":1.07},{"s":210,"f":4.415,"a":1.08},{"s":210,"f":4.432,"a":1.07},{"s":210,"f":4.449,"a":1.08},{"s":210,"f":4.465,"a":1.09},{"s":210,"f":4.482,"a":1.09},{"s":210,"f":4.498,"a":1.08},{"s":210,"f":4.515,"a":1.07},{"s":210,"f":4.53,"a":1.06},{"s":210,"f":4.548,"a":1.05},{"s":210,"f":4.565,"a":1.05},{"s":210,"f":4.581,"a":1.05},{"s":210,"f":4.598,"a":1.05},{"s":210,"f":4.614,"a":1.05},{"s":210,"f":4.631,"a":1.07},{"s":210,"f":4.647,"a":1.10},{"s":210,"f":4.664,"a":1.15},{"s":210,"f":4.68,"a":1.20},{"s":210,"f":4.697,"a":1.26},{"s":210,"f":4.713,"a":1.31},{"s":210,"f":4.73,"a":1.35},{"s":210,"f":4.747,"a":1.37},{"s":210,"f":4.763,"a":1.38},{"s":210,"f":4.78,"a":1.38},{"s":210,"f":4.796,"a":1.36},{"s":210,"f":4.813,"a":1.33},{"s":210,"f":4.829,"a":1.30},{"s":210,"f":4.846,"a":1.27},{"s":210,"f":4.862,"a":1.25},{"s":210,"f":4.88,"a":1.24},{"s":210,"f":4.896,"a":1.24},{"s":210,"f":4.912,"a":1.24},{"s":210,"f":4.929,"a":1.26},{"s":210,"f":4.945,"a":1.29},{"s":210,"f":4.962,"a":1.33},{"s":210,"f":4.978,"a":1.37},{"s":210,"f":4.995,"a":1.41},{"s":210,"f":5.012,"a":1.43},{"s":210,"f":5.028,"a":1.45},{"s":210,"f":5.045,"a":1.47},{"s":210,"f":5.061,"a":1.50},{"s":210,"f":5.078,"a":1.55},{"s":210,"f":5.095,"a":1.48},{"s":210,"f":5.111,"a":1.60},{"s":210,"f":5.128,"a":1.52},{"s":210,"f":5.144,"a":1.65},{"s":210,"f":5.161,"a":1.55},{"s":210,"f":5.177,"a":1.63},{"s":210,"f":5.194,"a":1.50},{"s":210,"f":5.21,"a":1.60},{"s":210,"f":5.227,"a":1.47},{"s":210,"f":5.243,"a":1.55},{"s":210,"f":5.26,"a":1.42},{"s":210,"f":5.276,"a":1.50},{"s":210,"f":5.293,"a":1.40},{"s":210,"f":5.31,"a":1.46},{"s":210,"f":5.326,"a":1.36},{"s":210,"f":5.343,"a":1.42},{"s":210,"f":5.359,"a":1.31},{"s":210,"f":5.376,"a":1.37},{"s":210,"f":5.392,"a":1.27},{"s":210,"f":5.409,"a":1.33},{"s":210,"f":5.425,"a":1.22},{"s":210,"f":5.442,"a":1.30},{"s":210,"f":5.458,"a":1.24},{"s":210,"f":5.475,"a":1.32},{"s":210,"f":5.49,"a":1.27},{"s":210,"f":5.508,"a":1.36},{"s":210,"f":5.525,"a":1.30},{"s":210,"f":5.541,"a":1.40},{"s":210,"f":5.558,"a":1.34},{"s":210,"f":5.575,"a":1.45},{"s":210,"f":5.591,"a":1.38},{"s":210,"f":5.608,"a":1.48},{"s":210,"f":5.625,"a":1.42},{"s":210,"f":5.641,"a":1.52},{"s":210,"f":5.658,"a":1.45},{"s":210,"f":5.674,"a":1.56},{"s":210,"f":5.69,"a":1.47},{"s":210,"f":5.707,"a":1.58},{"s":210,"f":5.724,"a":1.50},{"s":210,"f":5.74,"a":1.62},{"s":210,"f":5.757,"a":1.52},{"s":210,"f":5.773,"a":1.63},{"s":210,"f":5.79,"a":1.53},{"s":210,"f":5.806,"a":1.64},{"s":210,"f":5.823,"a":1.55},{"s":210,"f":5.84,"a":1.65},{"s":210,"f":5.856,"a":1.50},{"s":210,"f":5.873,"a":1.60},{"s":210,"f":5.894,"a":1.55},
{"s":300,"f":0.59,"a":0.06},{"s":300,"f":0.605,"a":0.14},{"s":300,"f":0.62,"a":0.05},{"s":300,"f":0.635,"a":0.12},{"s":300,"f":0.65,"a":0.07},{"s":300,"f":0.665,"a":0.15},{"s":300,"f":0.68,"a":0.08},{"s":300,"f":0.695,"a":0.13},{"s":300,"f":0.71,"a":0.06},{"s":300,"f":0.724,"a":0.12},{"s":300,"f":0.74,"a":0.09},{"s":300,"f":0.755,"a":0.15},{"s":300,"f":0.77,"a":0.09},{"s":300,"f":0.79,"a":0.13},{"s":300,"f":0.81,"a":0.08},{"s":300,"f":0.83,"a":0.14},{"s":300,"f":0.85,"a":0.10},{"s":300,"f":0.87,"a":0.15},{"s":300,"f":0.89,"a":0.10},{"s":300,"f":0.91,"a":0.14},{"s":300,"f":0.93,"a":0.11},{"s":300,"f":0.95,"a":0.15},{"s":300,"f":0.97,"a":0.11},{"s":300,"f":0.99,"a":0.14},{"s":300,"f":1.01,"a":0.11},{"s":300,"f":1.03,"a":0.15},{"s":300,"f":1.05,"a":0.12},{"s":300,"f":1.07,"a":0.15},{"s":300,"f":1.09,"a":0.12},{"s":300,"f":1.11,"a":0.15},{"s":300,"f":1.13,"a":0.12},{"s":300,"f":1.15,"a":0.14},{"s":300,"f":1.17,"a":0.12},{"s":300,"f":1.19,"a":0.15},{"s":300,"f":1.21,"a":0.13},{"s":300,"f":1.23,"a":0.15},{"s":300,"f":1.25,"a":0.13},{"s":300,"f":1.27,"a":0.15},{"s":300,"f":1.29,"a":0.13},{"s":300,"f":1.31,"a":0.16},{"s":300,"f":1.33,"a":0.14},{"s":300,"f":1.35,"a":0.17},{"s":300,"f":1.37,"a":0.14},{"s":300,"f":1.39,"a":0.17},{"s":300,"f":1.41,"a":0.15},{"s":300,"f":1.43,"a":0.17},{"s":300,"f":1.45,"a":0.15},{"s":300,"f":1.47,"a":0.18},{"s":300,"f":1.49,"a":0.16},{"s":300,"f":1.51,"a":0.18},{"s":300,"f":1.53,"a":0.16},{"s":300,"f":1.55,"a":0.19},{"s":300,"f":1.57,"a":0.17},{"s":300,"f":1.59,"a":0.19},{"s":300,"f":1.61,"a":0.17},{"s":300,"f":1.63,"a":0.19},{"s":300,"f":1.65,"a":0.18},{"s":300,"f":1.67,"a":0.20},{"s":300,"f":1.69,"a":0.18},{"s":300,"f":1.71,"a":0.20},{"s":300,"f":1.73,"a":0.19},{"s":300,"f":1.75,"a":0.21},{"s":300,"f":1.77,"a":0.19},{"s":300,"f":1.79,"a":0.21},{"s":300,"f":1.81,"a":0.20},{"s":300,"f":1.833,"a":0.21},{"s":300,"f":1.85,"a":0.21},{"s":300,"f":1.87,"a":0.22},{"s":300,"f":1.89,"a":0.22},{"s":300,"f":1.91,"a":0.23},{"s":300,"f":1.93,"a":0.23},{"s":300,"f":1.95,"a":0.24},{"s":300,"f":1.97,"a":0.24},{"s":300,"f":1.998,"a":0.25},{"s":300,"f":2.02,"a":0.26},{"s":300,"f":2.04,"a":0.27},{"s":300,"f":2.06,"a":0.28},{"s":300,"f":2.08,"a":0.29},{"s":300,"f":2.10,"a":0.30},{"s":300,"f":2.12,"a":0.31},{"s":300,"f":2.14,"a":0.32},{"s":300,"f":2.164,"a":0.33},{"s":300,"f":2.18,"a":0.33},{"s":300,"f":2.20,"a":0.32},{"s":300,"f":2.22,"a":0.32},{"s":300,"f":2.24,"a":0.31},{"s":300,"f":2.26,"a":0.31},{"s":300,"f":2.28,"a":0.30},{"s":300,"f":2.30,"a":0.30},{"s":300,"f":2.33,"a":0.30},{"s":300,"f":2.36,"a":0.29},{"s":300,"f":2.39,"a":0.28},{"s":300,"f":2.42,"a":0.28},{"s":300,"f":2.45,"a":0.28},{"s":300,"f":2.48,"a":0.28},{"s":300,"f":2.51,"a":0.28},{"s":300,"f":2.54,"a":0.28},{"s":300,"f":2.57,"a":0.29},{"s":300,"f":2.60,"a":0.29},{"s":300,"f":2.63,"a":0.30},{"s":300,"f":2.66,"a":0.30},{"s":300,"f":2.69,"a":0.31},{"s":300,"f":2.72,"a":0.31},{"s":300,"f":2.75,"a":0.32},{"s":300,"f":2.78,"a":0.32},{"s":300,"f":2.81,"a":0.33},{"s":300,"f":2.84,"a":0.33},{"s":300,"f":2.87,"a":0.34},{"s":300,"f":2.90,"a":0.35},{"s":300,"f":2.93,"a":0.36},{"s":300,"f":2.96,"a":0.37},{"s":300,"f":2.99,"a":0.39},{"s":300,"f":3.02,"a":0.41},{"s":300,"f":3.05,"a":0.42},{"s":300,"f":3.08,"a":0.44},{"s":300,"f":3.11,"a":0.45},{"s":300,"f":3.14,"a":0.46},{"s":300,"f":3.17,"a":0.47},{"s":300,"f":3.20,"a":0.48},{"s":300,"f":3.23,"a":0.49},{"s":300,"f":3.26,"a":0.50},{"s":300,"f":3.29,"a":0.50},{"s":300,"f":3.32,"a":0.50},{"s":300,"f":3.35,"a":0.49},{"s":300,"f":3.38,"a":0.49},{"s":300,"f":3.41,"a":0.48},{"s":300,"f":3.44,"a":0.47},{"s":300,"f":3.47,"a":0.46},{"s":300,"f":3.50,"a":0.45},{"s":300,"f":3.53,"a":0.44},{"s":300,"f":3.56,"a":0.43},{"s":300,"f":3.59,"a":0.42},{"s":300,"f":3.62,"a":0.41},{"s":300,"f":3.65,"a":0.40},{"s":300,"f":3.68,"a":0.39},{"s":300,"f":3.71,"a":0.39},{"s":300,"f":3.74,"a":0.38},{"s":300,"f":3.77,"a":0.38},{"s":300,"f":3.80,"a":0.38},{"s":300,"f":3.83,"a":0.39},{"s":300,"f":3.86,"a":0.39},{"s":300,"f":3.89,"a":0.40},{"s":300,"f":3.92,"a":0.41},{"s":300,"f":3.95,"a":0.41},{"s":300,"f":3.98,"a":0.41},{"s":300,"f":4.01,"a":0.42},{"s":300,"f":4.04,"a":0.42},{"s":300,"f":4.07,"a":0.43},{"s":300,"f":4.10,"a":0.43},{"s":300,"f":4.13,"a":0.44},{"s":300,"f":4.16,"a":0.44},{"s":300,"f":4.19,"a":0.45},{"s":300,"f":4.22,"a":0.46},{"s":300,"f":4.25,"a":0.47},{"s":300,"f":4.28,"a":0.48},{"s":300,"f":4.31,"a":0.49},{"s":300,"f":4.34,"a":0.50},{"s":300,"f":4.37,"a":0.51},{"s":300,"f":4.40,"a":0.53},{"s":300,"f":4.43,"a":0.54},{"s":300,"f":4.46,"a":0.56},{"s":300,"f":4.49,"a":0.57},{"s":300,"f":4.52,"a":0.59},{"s":300,"f":4.55,"a":0.60},{"s":300,"f":4.58,"a":0.62},{"s":300,"f":4.61,"a":0.64},{"s":300,"f":4.64,"a":0.66},{"s":300,"f":4.67,"a":0.69},{"s":300,"f":4.70,"a":0.71},{"s":300,"f":4.73,"a":0.74},{"s":300,"f":4.76,"a":0.77},{"s":300,"f":4.79,"a":0.79},{"s":300,"f":4.82,"a":0.80},{"s":300,"f":4.85,"a":0.80},{"s":300,"f":4.88,"a":0.79},{"s":300,"f":4.91,"a":0.78},{"s":300,"f":4.94,"a":0.77},{"s":300,"f":4.97,"a":0.76},{"s":300,"f":5.00,"a":0.74},{"s":300,"f":5.03,"a":0.71},{"s":300,"f":5.06,"a":0.69},{"s":300,"f":5.08,"a":0.72},{"s":300,"f":5.10,"a":0.66},{"s":300,"f":5.12,"a":0.71},{"s":300,"f":5.14,"a":0.74},{"s":300,"f":5.16,"a":0.70},{"s":300,"f":5.18,"a":0.76},{"s":300,"f":5.20,"a":0.72},{"s":300,"f":5.22,"a":0.79},{"s":300,"f":5.24,"a":0.73},{"s":300,"f":5.26,"a":0.80},{"s":300,"f":5.28,"a":0.75},{"s":300,"f":5.30,"a":0.81},{"s":300,"f":5.32,"a":0.76},{"s":300,"f":5.34,"a":0.83},{"s":300,"f":5.36,"a":0.77},{"s":300,"f":5.38,"a":0.85},{"s":300,"f":5.40,"a":0.79},{"s":300,"f":5.42,"a":0.86},{"s":300,"f":5.44,"a":0.80},{"s":300,"f":5.46,"a":0.88},{"s":300,"f":5.48,"a":0.82},{"s":300,"f":5.50,"a":0.89},{"s":300,"f":5.52,"a":0.83},{"s":300,"f":5.54,"a":0.92},{"s":300,"f":5.56,"a":0.85},{"s":300,"f":5.58,"a":0.95},{"s":300,"f":5.60,"a":0.86},{"s":300,"f":5.62,"a":0.96},{"s":300,"f":5.64,"a":0.88},{"s":300,"f":5.66,"a":0.97},{"s":300,"f":5.68,"a":0.86},{"s":300,"f":5.70,"a":0.93},{"s":300,"f":5.72,"a":0.84},{"s":300,"f":5.74,"a":0.91},{"s":300,"f":5.76,"a":0.83},{"s":300,"f":5.78,"a":0.89},{"s":300,"f":5.80,"a":0.81},{"s":300,"f":5.82,"a":0.87},{"s":300,"f":5.84,"a":0.79},{"s":300,"f":5.86,"a":0.85},{"s":300,"f":5.894,"a":0.80}
],
"temps":[
{"t":"10 K","f":0.18,"a":2.23},{"t":"70 K","f":0.18,"a":1.68},{"t":"140 K","f":0.03,"a":1.19},{"t":"210 K","f":0.10,"a":0.69},{"t":"300 K","f":0.10,"a":0.21}
],
"notes":[
{"t":"Atorvastatin calcium hydrate","f":0.21,"a":4.80},{"t":"10 wt% pellet (not ground)","f":0.21,"a":4.63},{"t":"C₆₆H₆₈CaF₂N₄O₁₀ · 3H₂O","f":0.21,"a":4.45},{"t":"M.W. = 1203.34","f":0.26,"a":4.25}
]
},
"layer":[
{"data":{"name":"spectra"},
 "mark":{"type":"line","strokeWidth":1.4,"clip":true},
 "encoding":{
  "x":{"field":"f","type":"quantitative","scale":{"domain":[0,5.894],"nice":false,"zero":false},
   "axis":{"orient":"bottom","values":[0,0.5,1,1.5,2,2.5,3,3.5,4,4.5,5,5.5],"labelExpr":"datum.value % 1 === 0 ? '' + datum.value : ''","labelOffset":{"condition":{"test":"datum.value === 0","value":-4},"value":0},"tickSize":{"condition":{"test":"datum.value % 1 === 0","value":-8},"value":-4},"tickWidth":1.2,"tickColor":"black","domainWidth":2,"domainColor":"black","grid":false,"labelFont":"Liberation Serif","labelFontSize":13,"labelColor":"black","labelPadding":8,"labelFlush":false,"labelOverlap":false,"title":"Frequency (THz)","titleFont":"Liberation Sans","titleFontSize":15,"titleFontWeight":"normal","titleColor":"black","titlePadding":1}},
  "y":{"field":"a","type":"quantitative","scale":{"domain":[0,5],"nice":false,"zero":false},
   "axis":{"orient":"left","values":[0.5,1,1.5,2,2.5,3,3.5,4,4.5],"labelExpr":"datum.value % 1 === 0 ? '' + datum.value : ''","tickSize":{"condition":{"test":"datum.value % 1 === 0","value":-8},"value":-4},"tickWidth":1.2,"tickColor":"black","domainWidth":2,"domainColor":"black","grid":false,"labelFont":"Liberation Serif","labelFontSize":14,"labelColor":"black","labelPadding":12,"labelFlush":false,"labelOverlap":false,"title":"Absorbance","titleFont":"Liberation Sans","titleFontSize":16,"titleFontWeight":"normal","titleColor":"black","titlePadding":8}},
  "color":{"field":"s","type":"nominal","scale":{"domain":[10,70,140,210,300],"range":["#8a00ff","#0000ff","#00ee00","#ff8a00","#ff0000"]},"legend":null}
 }},
{"data":{"name":"temps"},
 "mark":{"type":"text","align":"left","baseline":"middle","font":"Liberation Sans","fontSize":12.5,"color":"black"},
 "encoding":{
  "x":{"field":"f","type":"quantitative","axis":{"orient":"top","values":[0.5,1,1.5,2,2.5,3,3.5,4,4.5,5,5.5],"labels":false,"title":null,"tickSize":{"condition":{"test":"datum.value % 1 === 0","value":-8},"value":-4},"tickWidth":1.2,"tickColor":"black","domainWidth":2,"domainColor":"black","grid":false}},
  "y":{"field":"a","type":"quantitative","axis":{"orient":"right","values":[1,2,3,4],"labels":false,"title":null,"tickSize":-2,"tickWidth":1.2,"tickColor":"black","domain":false,"grid":false}},
  "text":{"field":"t"}
 }},
{"data":{"name":"notes"},
 "mark":{"type":"text","align":"left","baseline":"middle","font":"Liberation Sans","fontSize":13,"color":"black"},
 "encoding":{
  "x":{"field":"f","type":"quantitative","axis":null},
  "y":{"field":"a","type":"quantitative","axis":null},
  "text":{"field":"t"}
 }}
]
}
